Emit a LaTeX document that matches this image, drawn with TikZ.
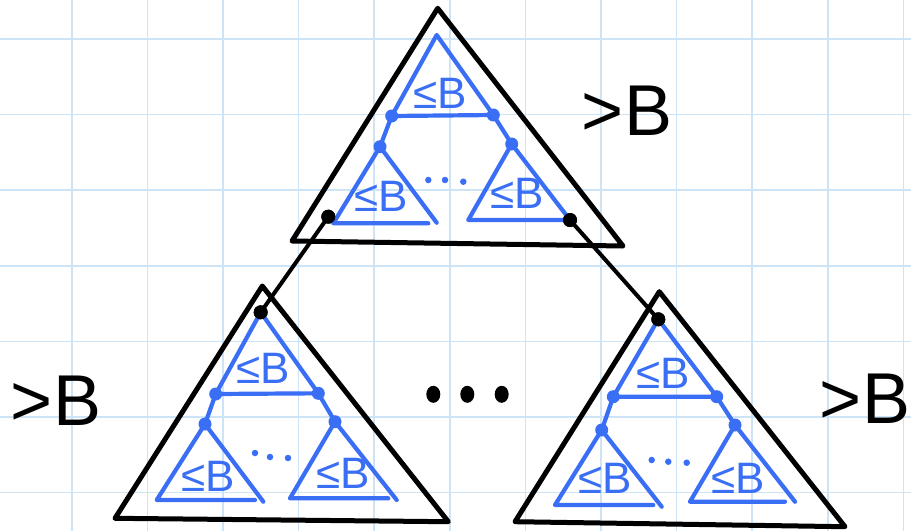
\documentclass[tikz,border=0pt]{standalone}
\usepackage{fontspec}
\setmainfont{Liberation Sans}
\usetikzlibrary{shapes.geometric}
\definecolor{gridblue}{RGB}{204,228,245}
\definecolor{penblue}{RGB}{58,110,245}
\begin{document}
\begin{tikzpicture}[x=1pt,y=-1pt,
  gridline/.style={draw=gridblue,line width=1.6pt},
  bigtri/.style={draw=black,line width=5pt,line join=round,line cap=round},
  smalltri/.style={draw=penblue,line width=4.2pt,line join=round,line cap=round},
  blueline/.style={draw=penblue,line width=4.2pt,line cap=round},
  edge/.style={draw=black,line width=4pt,line cap=round},
  bdot/.style={circle,fill=black,inner sep=0pt,minimum size=14pt},
  udot/.style={circle,fill=penblue,inner sep=0pt,minimum size=13pt},
  sdot/.style={circle,fill=penblue,inner sep=0pt,minimum size=6.5pt},
  bigdot/.style={ellipse,fill=black,inner sep=0pt,minimum width=14pt,minimum height=17pt},
  lelabel/.style={text=penblue,inner sep=0pt,anchor=base,font=\fontsize{44}{44}\selectfont},
  gtlabel/.style={text=black,inner sep=0pt,anchor=base,font=\fontsize{72}{72}\selectfont}]
\useasboundingbox (0,0) rectangle (911,531);
\fill[white] (0,0) rectangle (911,531);
% grid
\foreach \gx in {71.7,147.3,222.9,298.5,374.1,449.7,525.3,600.9,676.5,752.1,827.7,903.3}
  \draw[gridline] (\gx,0) -- (\gx,531);
\foreach \gy in {39,114.6,190.2,265.8,341.4,417,492.6}
  \draw[gridline] (0,\gy) -- (911,\gy);

% ===== top big triangle =====
\coordinate (TA) at (437.7,8.3);
\coordinate (TL) at (292,241);
\coordinate (TR) at (623,246);
\draw[bigtri] (TA) -- (TL) -- (TR) -- cycle;
% inner structure
\coordinate (tTop) at (436.7,35);
\node[udot] (tL) at (391.7,116) {};
\node[udot] (tR) at (493.3,115) {};
\node[udot] (tLL) at (380,146.7) {};
\node[udot] (tRR) at (511.7,144) {};
\draw[smalltri] (tL.center) -- (tTop) -- (tR.center) -- cycle;
\draw[blueline] (tL.center) -- (tLL.center);
\draw[blueline] (tR.center) -- (tRR.center);
\node[bdot] (tDotL) at (328.3,216.7) {};
\node[bdot] (tDotR) at (570,220) {};
\draw[smalltri] (tLL.center) -- (333.3,223.3) -- (428.3,223.3);
\draw[smalltri] (tLL.center) -- (436.7,222.7);
\draw[smalltri] (tRR.center) -- (468.3,220) -- (tDotR.center);
\draw[smalltri] (tRR.center) -- (tDotR.center);
\node[lelabel] (tlab1) at (440,108) {≤B};
\node[lelabel] (tlab2) at (381,211) {≤B};
\node[lelabel] (tlab3) at (517,208) {≤B};
\node[sdot] (td1) at (428.3,180) {};
\node[sdot] (td2) at (445,180) {};
\node[sdot] (td3) at (463.3,181.7) {};
\node[gtlabel] (gtT) at (627,135) {>B};

% ===== bottom-left big triangle =====
\coordinate (LA) at (262.3,286);
\coordinate (LL) at (115,518.3);
\coordinate (LR) at (448.3,521.7);
\draw[bigtri] (LA) -- (LL) -- (LR) -- cycle;
\node[bdot] (lDot) at (260.7,312.3) {};
\node[udot] (lL) at (215.7,394) {};
\node[udot] (lR) at (318.3,393.3) {};
\node[udot] (lLL) at (205,424) {};
\node[udot] (lRR) at (335,421.7) {};
\draw[smalltri] (lL.center) -- (lDot.center) -- (lR.center) -- cycle;
\draw[blueline] (lL.center) -- (lLL.center);
\draw[blueline] (lR.center) -- (lRR.center);
\draw[smalltri] (lLL.center) -- (156.7,500) -- (255,500);
\draw[smalltri] (lLL.center) -- (263.3,501.7);
\draw[smalltri] (lRR.center) -- (290,498.3) -- (388.3,498.3);
\draw[smalltri] (lRR.center) -- (396.7,500);
\node[lelabel] (llab1) at (263,383) {≤B};
\node[lelabel] (llab2) at (208,491) {≤B};
\node[lelabel] (llab3) at (343,488) {≤B};
\node[sdot] (ld1) at (255,453) {};
\node[sdot] (ld2) at (270,457) {};
\node[sdot] (ld3) at (288,458) {};
\node[gtlabel] (gtL) at (56,425) {>B};

% ===== bottom-right big triangle =====
\coordinate (RA) at (659.3,291.7);
\coordinate (RL) at (515,521.7);
\coordinate (RR) at (845,526.7);
\draw[bigtri] (RA) -- (RL) -- (RR) -- cycle;
\node[bdot] (rDot) at (658.3,319.3) {};
\node[udot] (rL) at (613.3,396.7) {};
\node[udot] (rR) at (716.7,396.7) {};
\node[udot] (rLL) at (601.7,430) {};
\node[udot] (rRR) at (735,425) {};
\draw[smalltri] (rL.center) -- (rDot.center) -- (rR.center) -- cycle;
\draw[blueline] (rL.center) -- (rLL.center);
\draw[blueline] (rR.center) -- (rRR.center);
\draw[smalltri] (rLL.center) -- (555,505) -- (653.3,505);
\draw[smalltri] (rLL.center) -- (661.7,506.7);
\draw[smalltri] (rRR.center) -- (690,501.7) -- (785,501.7);
\draw[smalltri] (rRR.center) -- (795,501.7);
\node[lelabel] (rlab1) at (663,388) {≤B};
\node[lelabel] (rlab2) at (605,493) {≤B};
\node[lelabel] (rlab3) at (738,493) {≤B};
\node[sdot] (rd1) at (651.7,460) {};
\node[sdot] (rd2) at (668.3,461.7) {};
\node[sdot] (rd3) at (686.7,462.7) {};
\node[gtlabel] (gtR) at (865,423) {>B};

% ===== edges between levels =====
\draw[edge] (tDotL.center) -- (lDot.center);
\draw[edge] (tDotR.center) -- (rDot.center);
\node[bdot] at (lDot) {};
\node[bdot] at (rDot) {};
\node[bdot] at (tDotL) {};
\node[bdot] at (tDotR) {};

% ===== middle ellipsis =====
\node[bigdot] (m1) at (433.3,394.3) {};
\node[bigdot] (m2) at (467.3,394.3) {};
\node[bigdot] (m3) at (501.7,394.3) {};
\end{tikzpicture}
\end{document}
